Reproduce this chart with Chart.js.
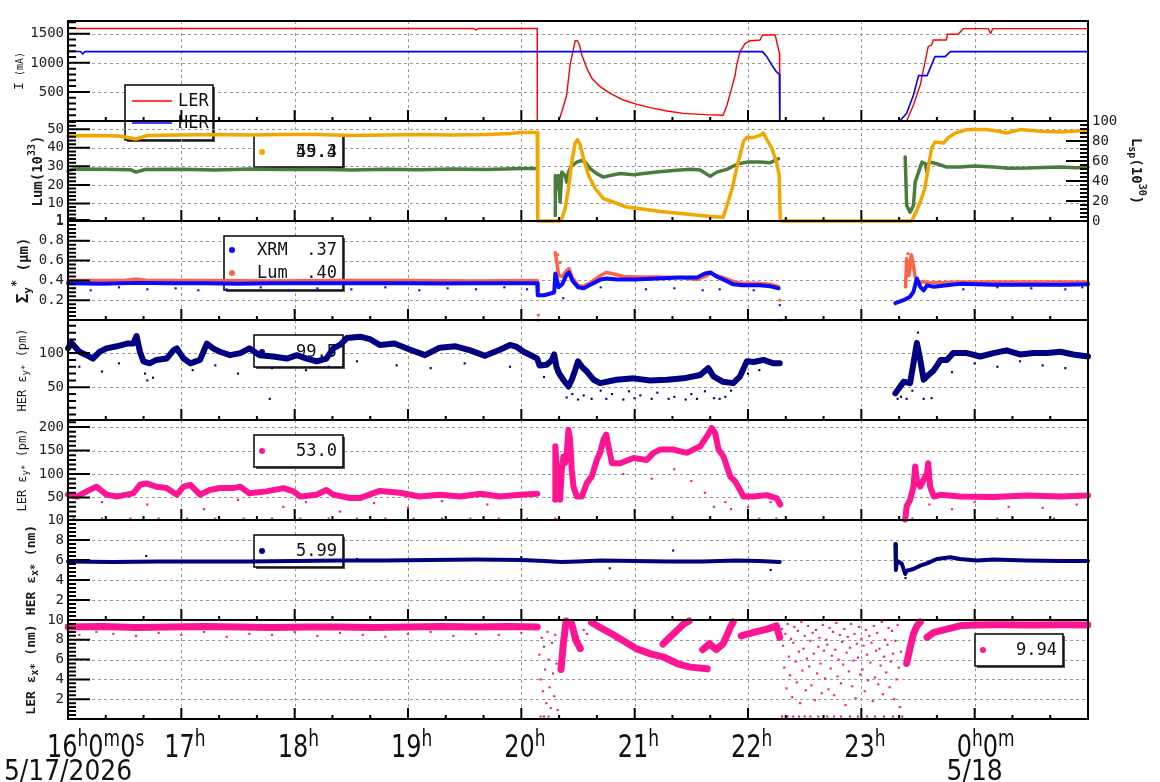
<!DOCTYPE html>
<html>
<head>
<meta charset="utf-8">
<script src="https://cdn.jsdelivr.net/npm/chart.js@4.4.1/dist/chart.umd.min.js"></script>
<style>
  body { margin: 0; background: #fff; }
  #wrap { position: relative; width: 1160px; height: 782px; overflow: hidden; }
  #wrap canvas { position: absolute; left: 0; }
</style>
</head>
<body>
<div id="wrap"></div>
<script>
// ---- data: [hour, value], null = no data ----
const hours = [16, 17, 18, 19, 20, 21, 22, 23, 24, 25];
const hourLabels = [['16','h','0','m','0','s'], ['17','h'], ['18','h'], ['19','h'], ['20','h'], ['21','h'], ['22','h'], ['23','h'], ['0','h','0','m']];
const dateLabels = [[16, '5/17/2026'], [24, '5/18']];

// panel 1 : beam currents (mA)
const lerCurrent = [[16.0,1590],[17.5,1590],[19.0,1590],[19.58,1590],[19.6,1565],[19.62,1590],[20.14,1590],[20.141,0],[20.33,0],[20.357,160],[20.40,447],[20.43,963],[20.455,1192],[20.475,1381],[20.495,1381],[20.513,1307],[20.534,1135],[20.578,906],[20.622,734],[20.695,590],[20.784,476],[20.90,361],[21.02,287],[21.137,229],[21.284,172],[21.43,132],[21.62,110],[21.78,100],[21.815,275],[21.843,476],[21.887,791],[21.90,963],[21.93,1192],[21.975,1336],[22.02,1381],[22.107,1393],[22.128,1479],[22.24,1479],[22.26,1307],[22.278,1164],[22.28,0],[23.40,0],[23.46,275],[23.52,620],[23.59,1280],[23.62,1308],[23.635,1394],[23.75,1394],[23.76,1492],[23.855,1492],[23.9,1588],[24.12,1588],[24.14,1505],[24.16,1588],[25.0,1588]];
const herCurrent = [[16.0,1195],[16.11,1195],[16.13,1155],[16.15,1195],[22.128,1193],[22.166,1106],[22.21,963],[22.25,848],[22.278,803],[22.28,0],[23.34,0],[23.40,132],[23.46,447],[23.505,780],[23.58,780],[23.65,1107],[23.74,1107],[23.785,1193],[25.0,1193]];

// panel 2 : luminosity (left, 10^33) and specific luminosity (right, 10^30)
const lumTotal = [[16.0,27.6],[16.05,28.6],[16.3,28.4],[16.55,28.2],[16.6,26.9],[16.68,28.3],[17.0,28.5],[17.3,28.1],[17.6,28.6],[17.9,28.3],[18.2,28.5],[18.5,28.0],[18.8,28.4],[19.1,28.2],[19.4,28.6],[19.7,28.3],[20.0,28.8],[20.14,28.8],[20.145,null],[20.298,3.5],[20.30,25.1],[20.313,17.9],[20.327,25.1],[20.342,10.7],[20.357,26.9],[20.386,25.1],[20.40,21.5],[20.416,26.9],[20.445,30.5],[20.49,32.3],[20.534,33.2],[20.563,32.3],[20.607,28.8],[20.666,26.1],[20.725,24.2],[20.784,25.1],[20.872,26.1],[20.99,25.5],[21.078,26.1],[21.196,26.9],[21.343,27.8],[21.49,28.4],[21.578,28.0],[21.666,24.6],[21.725,26.9],[21.813,28.4],[21.872,30.2],[21.916,31.4],[21.99,32.3],[22.107,32.3],[22.196,32.0],[22.269,34.1],[22.275,null],[23.387,35],[23.40,8.9],[23.43,5.3],[23.46,8.9],[23.475,21.5],[23.505,26.9],[23.535,32.3],[23.564,31.4],[23.58,26.9],[23.59,31.4],[23.607,32.3],[23.666,31.4],[23.755,29.6],[23.87,29.6],[24.0,30.2],[24.166,29.6],[24.3,29.0],[24.46,29.1],[24.6,29.4],[24.755,29.6],[24.9,29.3],[25.0,29.6]];
const lumSpecific = [[16.0,85],[16.2,85.5],[16.45,85],[16.6,82],[16.7,85.5],[17.0,86],[17.3,86.5],[17.6,86],[17.9,86.5],[18.2,86.5],[18.5,85.5],[18.8,86],[19.1,86.5],[19.4,86],[19.7,86.5],[19.9,87.5],[20.0,88.5],[20.14,88.5],[20.145,0],[20.345,0],[20.357,2.2],[20.386,12.3],[20.416,32.5],[20.445,59.4],[20.475,78],[20.495,81.3],[20.519,76.3],[20.548,62.8],[20.592,46],[20.651,32.5],[20.725,22.4],[20.81,19],[20.927,14],[21.05,12.3],[21.225,9.6],[21.43,7.3],[21.667,4.5],[21.78,3.8],[21.815,15.7],[21.86,32.5],[21.90,52.7],[21.93,66],[21.96,79.6],[21.99,83.6],[22.05,83.6],[22.107,85.7],[22.137,88],[22.166,81.3],[22.21,72.9],[22.25,59.4],[22.275,46],[22.285,0],[23.445,0],[23.475,7.3],[23.52,19],[23.56,32.5],[23.59,52.7],[23.62,73],[23.65,79],[23.725,78],[23.77,83.6],[23.83,88],[23.93,91.4],[24.1,91.4],[24.2,90],[24.28,88],[24.40,91.4],[24.58,89.7],[24.76,89],[24.9,90],[25.0,91]];

// panel 3 : vertical beam size (um)
const sizeXrm = [[16.0,0.37],[16.3,0.365],[16.6,0.375],[16.9,0.37],[17.2,0.37],[17.5,0.365],[17.8,0.37],[18.1,0.37],[18.4,0.37],[18.7,0.372],[19.0,0.37],[19.3,0.368],[19.6,0.37],[19.9,0.372],[20.14,0.37],[20.145,0.25],[20.2,0.25],[20.25,0.265],[20.29,0.28],[20.30,0.47],[20.33,0.33],[20.36,0.36],[20.40,0.46],[20.42,0.48],[20.45,0.40],[20.5,0.33],[20.55,0.32],[20.6,0.35],[20.65,0.38],[20.7,0.41],[20.75,0.42],[20.85,0.41],[21.0,0.41],[21.2,0.42],[21.4,0.43],[21.55,0.43],[21.62,0.47],[21.67,0.48],[21.72,0.44],[21.8,0.40],[21.87,0.36],[21.95,0.35],[22.1,0.35],[22.2,0.34],[22.27,0.32],[22.28,null],[23.30,0.17],[23.373,0.20],[23.43,0.235],[23.46,0.285],[23.475,0.35],[23.49,0.42],[23.52,0.335],[23.55,0.30],[23.58,0.35],[23.64,0.335],[23.755,0.35],[23.87,0.365],[24.166,0.355],[24.46,0.355],[24.8,0.355],[25.0,0.36]];
const sizeLum = [[16.0,0.40],[16.5,0.40],[16.6,0.415],[16.7,0.40],[17.2,0.40],[17.8,0.395],[18.4,0.40],[19.0,0.40],[19.6,0.395],[20.14,0.40],[20.145,null],[20.30,0.68],[20.31,0.6],[20.33,0.45],[20.36,0.44],[20.40,0.50],[20.42,0.52],[20.45,0.43],[20.5,0.35],[20.55,0.34],[20.6,0.37],[20.65,0.41],[20.7,0.45],[20.75,0.48],[20.8,0.47],[20.9,0.44],[21.0,0.435],[21.2,0.435],[21.4,0.43],[21.55,0.41],[21.62,0.44],[21.67,0.47],[21.72,0.45],[21.8,0.42],[21.87,0.39],[21.95,0.37],[22.1,0.37],[22.2,0.36],[22.27,0.34],[22.28,null],[23.39,0.335],[23.40,0.62],[23.42,0.45],[23.44,0.66],[23.46,0.55],[23.475,0.435],[23.49,0.40],[23.52,0.375],[23.55,0.39],[23.58,0.375],[23.755,0.38],[23.87,0.385],[24.166,0.385],[24.46,0.385],[25.0,0.385]];
const sizeXrmOut = [[16.05,0.32],[16.2,0.30],[16.45,0.33],[16.7,0.31],[16.95,0.32],[17.15,0.30],[17.4,0.31],[17.7,0.33],[17.95,0.30],[18.2,0.32],[18.5,0.31],[18.8,0.33],[19.1,0.30],[19.35,0.32],[19.6,0.31],[19.85,0.33],[20.05,0.31],[20.37,0.22],[20.7,0.33],[21.1,0.31],[21.35,0.32],[21.6,0.30],[21.75,0.31],[22.05,0.30],[22.28,0.15],[23.9,0.31],[24.2,0.33],[24.5,0.32],[24.8,0.31],[24.95,0.33]];
const sizeLumOut = [[20.15,0.0],[20.15,0.05],[22.28,0.2],[22.285,0.0],[20.32,0.66],[20.34,0.58],[23.41,0.67],[23.43,0.52]];

// panel 4 : HER vertical emittance (pm)
const herEy = [[16.0,107],[16.03,115],[16.1,102],[16.165,97],[16.22,92],[16.28,102],[16.34,107],[16.43,110],[16.52,114],[16.576,114],[16.605,125],[16.635,102],[16.665,88],[16.72,85],[16.78,90],[16.87,92],[16.93,104],[16.96,107],[17.02,92],[17.08,85],[17.165,90],[17.195,102],[17.225,114],[17.28,107],[17.34,102],[17.43,97],[17.52,100],[17.6,107],[17.69,97],[17.81,95],[17.93,92],[18.02,97],[18.105,92],[18.195,88],[18.28,92],[18.34,107],[18.4,112],[18.46,122],[18.58,124],[18.67,120],[18.75,112],[18.88,114],[19.02,105],[19.15,97],[19.28,108],[19.42,110],[19.55,104],[19.68,96],[19.81,105],[19.9,112],[19.96,109],[20.02,102],[20.107,95],[20.14,92],[20.16,82],[20.225,83],[20.27,90],[20.29,98],[20.31,80],[20.33,71],[20.37,61],[20.416,51],[20.445,61],[20.475,75],[20.50,88],[20.534,80],[20.578,73],[20.637,61],[20.695,56],[20.84,61],[20.99,63],[21.137,60],[21.284,61],[21.43,63],[21.578,68],[21.65,78],[21.695,66],[21.78,58],[21.87,56],[21.93,66],[21.99,88],[22.05,87],[22.137,90],[22.225,85],[22.28,85],[22.285,null],[23.30,41],[23.373,58],[23.43,56],[23.46,85],[23.49,115],[23.52,90],[23.55,61],[23.58,66],[23.64,75],[23.70,90],[23.755,90],[23.81,100],[23.93,100],[24.05,95],[24.166,100],[24.28,104],[24.4,98],[24.52,100],[24.64,100],[24.755,102],[24.87,98],[25.0,95]];
const herEyOut = [[16.1,80],[16.3,73],[16.45,85],[16.68,70],[16.7,60],[16.75,64],[17.1,75],[17.3,82],[17.5,70],[17.78,33],[17.8,78],[18.1,75],[18.3,80],[18.55,88],[18.9,82],[19.2,78],[19.5,85],[19.9,80],[20.2,65],[20.4,35],[20.45,40],[20.5,32],[20.55,38],[20.62,33],[20.7,45],[20.75,33],[20.8,40],[20.9,32],[20.95,44],[21.0,34],[21.05,38],[21.15,33],[21.2,42],[21.3,33],[21.35,36],[21.45,32],[21.5,40],[21.55,33],[21.62,44],[21.7,34],[21.75,33],[21.8,36],[21.85,45],[22.0,70],[22.1,75],[23.32,33],[23.35,36],[23.4,33],[23.45,45],[23.5,130],[23.55,33],[23.62,34],[23.8,72],[24.0,85],[24.2,80],[24.4,88],[24.6,82],[24.8,78]];

// panel 5 : LER vertical emittance (pm)
const lerEy = [[16.0,56],[16.08,52],[16.165,63],[16.25,73],[16.34,56],[16.43,52],[16.52,56],[16.576,59],[16.635,77],[16.69,80],[16.78,73],[16.87,70],[16.96,56],[17.02,73],[17.08,77],[17.165,56],[17.25,66],[17.34,70],[17.46,70],[17.52,73],[17.6,59],[17.75,63],[17.9,70],[17.99,63],[18.05,52],[18.195,56],[18.28,66],[18.34,56],[18.49,49],[18.58,49],[18.75,64],[18.93,60],[19.1,52],[19.28,56],[19.46,52],[19.64,58],[19.81,52],[19.99,56],[20.14,58],[20.145,null],[20.298,45],[20.30,159],[20.313,109],[20.327,73],[20.342,45],[20.357,109],[20.371,137],[20.386,123],[20.40,145],[20.416,194],[20.43,173],[20.445,109],[20.46,73],[20.49,52],[20.534,52],[20.578,81],[20.622,95],[20.666,130],[20.695,145],[20.725,173],[20.749,184],[20.769,159],[20.799,123],[20.872,123],[20.99,134],[21.107,130],[21.166,145],[21.225,152],[21.343,152],[21.46,145],[21.578,159],[21.637,180],[21.68,198],[21.71,187],[21.74,152],[21.784,137],[21.843,95],[21.887,84],[21.93,66],[21.96,52],[22.05,52],[22.166,55],[22.255,48],[22.284,35],[22.29,null],[23.387,3],[23.40,31],[23.43,45],[23.46,73],[23.475,116],[23.49,88],[23.52,73],[23.55,88],[23.58,102],[23.59,123],[23.607,73],[23.64,52],[23.70,56],[23.87,52],[24.166,51],[24.46,54],[24.755,52],[25.0,54]];
const lerEyOut = [[16.05,5],[16.3,5],[16.55,5],[16.8,5],[17.05,5],[17.3,5],[17.55,5],[17.8,5],[18.05,5],[18.3,5],[18.55,5],[18.8,5],[19.05,5],[19.3,5],[19.55,5],[19.8,5],[20.05,5],[20.3,5],[20.33,5],[16.3,40],[16.7,35],[17.2,25],[17.5,45],[17.9,30],[18.1,40],[18.4,20],[18.7,38],[19.0,28],[19.3,42],[19.7,35],[20.0,25],[20.9,100],[21.15,90],[21.35,110],[21.5,85],[21.62,60],[21.7,30],[21.8,40],[21.85,25],[22.0,30],[22.2,40],[22.1,5],[22.25,5],[23.45,5],[23.6,35],[23.8,25],[24.0,40],[24.2,5],[24.3,30],[24.6,28],[24.7,5],[24.9,35],[25.0,5]];

// panel 6 : HER horizontal emittance (nm)
const herEx = [[16.0,5.85],[16.4,5.8],[16.8,5.85],[17.2,5.85],[17.6,5.85],[18.0,5.9],[18.4,5.95],[18.8,5.95],[19.2,6.0],[19.6,6.05],[20.0,6.0],[20.2,5.9],[20.35,5.8],[20.5,5.85],[20.7,5.95],[21.0,5.9],[21.3,5.85],[21.6,5.85],[21.9,5.95],[22.1,5.9],[22.28,5.8],[22.285,null],[23.30,7.6],[23.305,5.0],[23.314,5.94],[23.358,5.6],[23.387,4.6],[23.40,4.93],[23.46,5.1],[23.52,5.44],[23.58,5.67],[23.666,6.1],[23.785,6.27],[23.87,6.1],[24.02,5.94],[24.166,6.05],[24.46,5.94],[24.755,5.9],[25.0,5.9]];
const herExOut = [[16.69,6.4],[18.55,6.1],[20.0,6.3],[20.78,5.17],[21.34,6.94],[22.2,5.0],[23.31,7.0],[23.39,4.2]];

// panel 7 : LER horizontal emittance (nm)
const lerEx = [[16.0,9.3],[16.3,9.35],[16.6,9.25],[16.9,9.3],[17.2,9.35],[17.5,9.3],[17.8,9.25],[18.1,9.3],[18.4,9.3],[18.7,9.25],[19.0,9.3],[19.3,9.35],[19.6,9.3],[19.9,9.35],[20.14,9.3],[20.145,null],[20.35,5.0],[20.37,7.5],[20.395,9.9],[20.40,null],[20.445,9.6],[20.48,8.0],[20.52,7.1],[20.525,null],[20.62,9.75],[20.695,9.25],[20.80,8.58],[20.90,7.9],[21.02,7.08],[21.14,6.58],[21.26,6.24],[21.38,5.58],[21.49,5.24],[21.64,5.07],[21.645,null],[21.25,7.58],[21.34,8.58],[21.43,9.58],[21.48,9.9],[21.485,null],[21.60,7.0],[21.66,7.6],[21.72,7.0],[21.78,7.6],[21.82,8.6],[21.85,9.4],[21.87,9.8],[21.875,null],[21.94,8.4],[22.05,8.75],[22.17,9.08],[22.25,9.41],[22.28,8.24],[22.285,null],[23.40,5.6],[23.43,7.2],[23.46,8.6],[23.49,9.4],[23.52,9.8],[23.525,null],[23.58,8.24],[23.64,8.75],[23.755,9.08],[23.87,9.41],[24.0,9.5],[24.2,9.52],[24.5,9.5],[24.8,9.52],[25.0,9.5]];
const lerExOut = [[16.1,8.5],[16.25,8.8],[16.4,8.6],[16.6,8.4],[16.8,8.7],[17.0,8.5],[17.2,8.8],[17.4,8.3],[17.6,8.6],[17.8,8.5],[18.0,8.8],[18.2,8.4],[18.4,8.7],[18.6,8.5],[18.8,8.3],[19.0,8.6],[19.2,8.8],[19.4,8.4],[19.6,8.6],[19.8,8.5],[20.0,8.7],
  [20.16,6.5],[20.17,4.0],[20.18,8.2],[20.19,2.8],[20.20,7.3],[20.21,5.0],[20.22,1.6],[20.23,8.8],[20.24,6.0],[20.25,3.2],[20.26,1.1],[20.27,7.7],[20.28,4.6],[20.29,2.3],[20.30,8.5],[20.31,5.6],[20.32,0.9],[20.50,8.3],[20.55,9.0],[20.58,8.6],
  [22.30,9.1],[22.31,7.4],[22.32,5.2],[22.33,8.6],[22.34,3.1],[22.35,9.6],[22.36,6.3],[22.37,4.4],[22.38,8.1],[22.39,2.2],[22.40,7.7],[22.41,9.3],[22.42,5.8],[22.43,3.7],[22.44,8.9],[22.45,6.8],[22.46,1.6],[22.47,9.8],[22.48,4.9],[22.49,7.1],[22.50,8.4],[22.51,2.9],[22.52,6.1],[22.53,9.4],[22.54,5.3],[22.55,7.9],[22.56,3.4],[22.57,8.7],[22.58,6.6],[22.59,1.9],[22.60,9.0],[22.61,4.6],[22.62,7.3],[22.63,8.2],[22.64,5.6],[22.65,2.6],[22.66,9.5],[22.67,6.9],[22.68,4.1],[22.69,8.0],[22.70,7.5],[22.71,3.0],[22.72,9.2],[22.73,5.1],[22.74,6.4],[22.75,8.8],[22.76,2.4],[22.77,7.0],[22.78,9.7],[22.79,4.3],[22.80,6.0],[22.81,8.5],[22.82,3.6],[22.83,7.8],[22.84,5.5],[22.85,9.1],[22.86,1.4],[22.87,6.7],[22.88,8.3],[22.89,4.8],[22.90,7.2],[22.91,9.6],[22.92,3.3],[22.93,5.9],[22.94,8.6],[22.95,2.1],[22.96,7.6],[22.97,6.2],[22.98,9.3],[22.99,4.5],[23.00,8.1],[23.01,5.0],[23.02,7.4],[23.03,2.8],[23.04,9.0],[23.05,6.5],[23.06,3.9],[23.07,8.4],[23.08,5.7],[23.09,7.7],[23.10,1.8],[23.11,9.4],[23.12,4.2],[23.13,6.9],[23.14,8.7],[23.15,3.5],[23.16,7.1],[23.17,5.4],[23.18,9.8],[23.19,2.5],[23.20,6.3],[23.21,8.0],[23.22,4.7],[23.23,7.5],[23.24,9.2],[23.25,3.2],[23.26,5.8],[23.27,8.9],[23.28,6.6],[23.29,2.0],[23.30,7.9],[23.31,4.0],[23.32,9.5],[23.33,5.2],[23.34,1.2],[23.35,6.8],
  [20.17,0.25],[20.2,0.25],[20.24,0.25],[22.3,0.25],[22.35,0.25],[22.4,0.25],[22.45,0.25],[22.5,0.25],[22.55,0.25],[22.62,0.25],[22.7,0.25],[22.76,0.25],[22.82,0.25],[22.9,0.25],[22.97,0.25],[23.05,0.25],[23.12,0.25],[23.2,0.25],[23.28,0.25],[23.36,0.25]];

// legend values shown in the boxes
const legendValues = { lum: ['55.3', '49.4'], xrm: '.37', lumSize: '.40', herEy: '99.5', lerEy: '53.0', herEx: '5.99', lerEx: '9.94' };

// ---- colours ----
const RED = '#ff0000', BLUE = '#0000ff', ORANGE = '#f0a800', GREEN = '#4a7d3c', BLUE2 = '#0a0aff', TOMATO = '#ff6347', NAVY = '#000080', PINK = '#ff1493';

const line = (data, color, width, axis = 'y') => ({ type: 'line', data, borderColor: color, borderWidth: width, borderJoinStyle: 'round', borderCapStyle: 'round', pointRadius: 0, fill: false, tension: 0, spanGaps: false, yAxisID: axis, clip: 3 });
const dots = (data, color, r = 1.5, axis = 'y') => ({ type: 'scatter', data, backgroundColor: color, borderWidth: 0, pointStyle: 'rect', pointRadius: r, showLine: false, yAxisID: axis, clip: 3 });

const MONO = '"DejaVu Sans Mono", monospace';
const tops = [21, 121, 221, 320, 420, 520, 620, 719];

const panels = [
  { min: 0, max: 1720, ticks: [500, 1000, 1500], minor: 100, grid: [500, 1000, 1500],
    title: { x: 20, parts: [{ t: 'I', s: 13 }, { t: ' (mA)', s: 10 }] },
    datasets: [line(herCurrent, BLUE, 1.6), line(lerCurrent, RED, 1.4)],
    legend: { box: [125, 85, 88, 55], items: [{ line: RED, y: 101, label: 'LER' }, { line: BLUE, y: 123, label: 'HER' }] } },
  { min: 0.5, max: 54.5, ticks: [1, 10, 20, 30, 40, 50], minor: 2, grid: [10, 20, 30, 40, 50],
    right: { min: 0, max: 100, ticks: [0, 20, 40, 60, 80, 100], minor: 4 },
    title: { x: 38, parts: [{ t: 'Lum(10', s: 14, b: 1 }, { t: '33', s: 10, b: 1, dy: -6 }, { t: ')', s: 14, b: 1 }] },
    rightTitle: { x: 1136, parts: [{ t: 'L', s: 14, b: 1 }, { t: 'sp', s: 10, b: 1, dy: 4 }, { t: '(10', s: 14, b: 1 }, { t: '30', s: 10, b: 1, dy: -6 }, { t: ')', s: 14, b: 1 }] },
    datasets: [line(lumSpecific, ORANGE, 3.5, 'y2'), line(lumTotal, GREEN, 3.5)],
    legend: { box: [254, 135, 89, 32], items: [{ dot: ORANGE, y: 152, values: legendValues.lum }] } },
  { min: 0, max: 1, ticks: [0.2, 0.4, 0.6, 0.8, 1], minor: 0.04, grid: [0.2, 0.4, 0.6, 0.8],
    title: { x: 24, parts: [{ t: 'Σ', s: 16, b: 1 }, { t: 'y', s: 11, b: 1, dy: 4 }, { t: '*', s: 12, b: 1, dy: -7 }, { t: ' (μm)', s: 14, b: 1 }] },
    datasets: [dots(sizeXrmOut, BLUE2), line(sizeXrm, BLUE2, 4), dots(sizeLumOut, TOMATO, 2), line(sizeLum, TOMATO, 3.5)],
    legend: { box: [224, 236, 119, 54], items: [{ dot: BLUE2, y: 250, label: 'XRM', values: [legendValues.xrm] }, { dot: TOMATO, y: 273, label: 'Lum', values: [legendValues.lumSize] }] } },
  { min: 2, max: 148.5, ticks: [50, 100], minor: 10, grid: [50, 100],
    title: { x: 23, parts: [{ t: 'HER ε', s: 12 }, { t: 'y*', s: 9, dy: 3 }, { t: ' (pm)', s: 12 }] },
    datasets: [dots(herEyOut, NAVY), line(herEy, NAVY, 6)],
    legend: { box: [254, 335, 89, 32], items: [{ dot: NAVY, y: 352, values: [legendValues.herEy] }] } },
  { min: 2, max: 215, ticks: [50, 100, 150, 200], minor: 10, grid: [50, 100, 150, 200],
    title: { x: 23, parts: [{ t: 'LER ε', s: 12 }, { t: 'y*', s: 9, dy: 3 }, { t: ' (pm)', s: 12 }] },
    datasets: [dots(lerEyOut, PINK), line(lerEy, PINK, 6)],
    legend: { box: [254, 435, 89, 32], items: [{ dot: PINK, y: 451, values: [legendValues.lerEy] }] } },
  { min: 0, max: 10, ticks: [2, 4, 6, 8, 10], minor: 0.4, grid: [2, 4, 6, 8],
    title: { x: 32, parts: [{ t: 'HER ε', s: 13, b: 1 }, { t: 'x*', s: 10, b: 1, dy: 3 }, { t: ' (nm)', s: 13, b: 1 }] },
    datasets: [dots(herExOut, NAVY), line(herEx, NAVY, 4)],
    legend: { box: [254, 535, 89, 32], items: [{ dot: NAVY, y: 551, values: [legendValues.herEx] }] } },
  { min: 0, max: 10, ticks: [2, 4, 6, 8, 10], minor: 0.4, grid: [2, 4, 6, 8],
    title: { x: 32, parts: [{ t: 'LER ε', s: 13, b: 1 }, { t: 'x*', s: 10, b: 1, dy: 3 }, { t: ' (nm)', s: 13, b: 1 }] },
    datasets: [dots(lerExOut, PINK), line(lerEx, PINK, 7)],
    legend: { box: [975, 634, 88, 32], items: [{ dot: PINK, y: 650, values: [legendValues.lerEx] }] },
    bottom: true }
];

const PAD = 22;

function fontOf(q) { return (q.b ? 'bold ' : '') + q.s + 'px ' + MONO; }

function drawRich(ctx, parts, cx, cy, angle) {
  ctx.save();
  ctx.translate(cx, cy);
  ctx.rotate(angle);
  let w = 0;
  parts.forEach(q => { ctx.font = fontOf(q); q.w = ctx.measureText(q.t).width; w += q.w; });
  let x = -w / 2;
  ctx.textBaseline = 'middle';
  ctx.textAlign = 'left';
  ctx.fillStyle = '#1a1a1a';
  parts.forEach(q => { ctx.font = fontOf(q); ctx.fillText(q.t, x, q.dy || 0); x += q.w; });
  ctx.restore();
}

function drawLegend(ctx, lg, off) {
  const [x, y0, w, h] = lg.box;
  const y = y0 - off;
  ctx.save();
  ctx.fillStyle = '#555';
  ctx.fillRect(x + 2, y + 2, w, h);
  ctx.fillStyle = '#fff';
  ctx.fillRect(x, y, w, h);
  ctx.strokeStyle = '#000';
  ctx.lineWidth = 1.5;
  ctx.strokeRect(x, y, w, h);
  ctx.font = '17px ' + MONO;
  ctx.textBaseline = 'middle';
  lg.items.forEach(it => {
    const iy = it.y - off;
    if (it.line) {
      ctx.strokeStyle = it.line; ctx.lineWidth = 1.5;
      ctx.beginPath(); ctx.moveTo(x + 7, iy); ctx.lineTo(x + 47, iy); ctx.stroke();
      ctx.fillStyle = '#111'; ctx.textAlign = 'left';
      ctx.fillText(it.label, x + 53, iy + 1);
    } else {
      ctx.fillStyle = it.dot;
      ctx.beginPath(); ctx.arc(x + 8, iy, 3, 0, Math.PI * 2); ctx.fill();
      ctx.fillStyle = '#111';
      if (it.label) { ctx.textAlign = 'left'; ctx.fillText(it.label, x + 33, iy + 1); }
      ctx.textAlign = 'right';
      (it.values || []).forEach(v => ctx.fillText(v, x + w - 6, iy + 1));
    }
  });
  ctx.restore();
}

function minorVals(min, max, step, majors) {
  const out = [];
  for (let k = Math.ceil(min / step - 1e-6); k * step <= max + 1e-9; k++) {
    const v = +(k * step).toFixed(6);
    if (!majors.some(m => Math.abs(m - v) < step / 10)) out.push(v);
  }
  return out;
}

function drawHourLabels(ctx, chart) {
  const x = chart.scales.x, a = chart.chartArea;
  const base = a.bottom + 38, dateBase = a.bottom + 61;
  ctx.save();
  ctx.fillStyle = '#111';
  ctx.textBaseline = 'alphabetic';
  ctx.textAlign = 'left';
  hourLabels.forEach((parts, i) => {
    const px = x.getPixelForValue(hours[i]);
    const shift = i === 0 ? 21 : (parts[0].length === 1 ? 18 : 17);
    ctx.save();
    ctx.translate(px - shift, base);
    ctx.scale(1, 1.3);
    let cx = 0;
    parts.forEach((t, j) => {
      const sup = j % 2 === 1;
      ctx.font = (sup ? 17 : 24) + 'px "DejaVu Sans"';
      ctx.fillText(t, cx, sup ? -8.5 : 0);
      cx += ctx.measureText(t).width;
    });
    ctx.restore();
  });
  dateLabels.forEach(([h, t]) => {
    const px = x.getPixelForValue(h);
    ctx.save();
    ctx.translate(px, dateBase);
    ctx.scale(1, 1.1);
    ctx.font = '25px "DejaVu Sans"';
    ctx.textAlign = 'center';
    ctx.fillText(t, 0, 0);
    ctx.restore();
  });
  ctx.restore();
}

function panelPlugin(p, off) {
  return {
    id: 'panelDeco',
    beforeDatasetsDraw(chart) {
      const { ctx, chartArea: a, scales } = chart;
      ctx.save();
      ctx.strokeStyle = '#9a9a9a';
      ctx.lineWidth = 1;
      ctx.setLineDash([3, 3]);
      ctx.beginPath();
      hours.forEach(h => {
        if (h <= 16 || h >= 25) return;
        const px = Math.round(scales.x.getPixelForValue(h)) + 0.5;
        ctx.moveTo(px, a.top); ctx.lineTo(px, a.bottom);
      });
      p.grid.forEach(v => {
        const py = Math.round(scales.y.getPixelForValue(v)) + 0.5;
        ctx.moveTo(a.left, py); ctx.lineTo(a.right, py);
      });
      ctx.stroke();
      ctx.restore();
      if (p.legend) drawLegend(ctx, p.legend, off);
    },
    afterDatasetsDraw(chart) {
      const { ctx, chartArea: a, scales } = chart;
      ctx.save();
      ctx.strokeStyle = '#000';
      ctx.lineWidth = 2;
      ctx.beginPath();
      // x ticks on the bottom edge, pointing inward
      for (let k = 0; k <= 27; k++) {
        const h = 16 + k / 3;
        const px = scales.x.getPixelForValue(h);
        const len = k % 3 === 0 ? 11 : 4;
        ctx.moveTo(px, a.bottom); ctx.lineTo(px, a.bottom - len);
      }
      // left y ticks
      p.ticks.forEach(v => { const py = scales.y.getPixelForValue(v); ctx.moveTo(a.left, py); ctx.lineTo(a.left + 22, py); });
      minorVals(p.min, p.max, p.minor, p.ticks).forEach(v => { const py = scales.y.getPixelForValue(v); ctx.moveTo(a.left, py); ctx.lineTo(a.left + 8, py); });
      if (p.right) {
        const r = p.right;
        r.ticks.forEach(v => { const py = scales.y2.getPixelForValue(v); ctx.moveTo(a.right, py); ctx.lineTo(a.right - 22, py); });
        minorVals(r.min, r.max, r.minor, r.ticks).forEach(v => { const py = scales.y2.getPixelForValue(v); ctx.moveTo(a.right, py); ctx.lineTo(a.right - 8, py); });
      }
      ctx.stroke();
      ctx.strokeRect(a.left, a.top, a.right - a.left, a.bottom - a.top);
      ctx.restore();
    },
    afterDraw(chart) {
      const { ctx, chartArea: a } = chart;
      const cy = (a.top + a.bottom) / 2;
      drawRich(ctx, p.title.parts, p.title.x, cy, -Math.PI / 2);
      if (p.rightTitle) drawRich(ctx, p.rightTitle.parts, p.rightTitle.x, cy, Math.PI / 2);
      if (p.bottom) drawHourLabels(ctx, chart);
    }
  };
}

const wrap = document.getElementById('wrap');
panels.forEach((p, i) => {
  const ph = tops[i + 1] - tops[i];
  const canvasTop = tops[i] - PAD;
  const h = p.bottom ? 782 - canvasTop : ph + 2 * PAD;
  const padBottom = h - PAD - ph;
  const canvas = document.createElement('canvas');
  canvas.width = 1160; canvas.height = h;
  canvas.style.top = canvasTop + 'px';
  canvas.style.width = '1160px'; canvas.style.height = h + 'px';
  canvas.style.zIndex = i + 1;
  wrap.appendChild(canvas);

  const tickFont = { family: MONO, size: 14 };
  const scales = {
    x: { type: 'linear', min: 16, max: 25, display: false },
    y: {
      type: 'linear', position: 'left', min: p.min, max: p.max,
      afterFit: s => { s.width = 68; },
      afterBuildTicks: s => { s.ticks = p.ticks.map(v => ({ value: v })); },
      ticks: { font: tickFont, color: '#222', padding: 4, autoSkip: false, callback: v => String(v) },
      grid: { display: false, drawTicks: false },
      border: { display: false }
    }
  };
  if (p.right) {
    scales.y2 = {
      type: 'linear', position: 'right', min: p.right.min, max: p.right.max,
      afterFit: s => { s.width = 72; },
      afterBuildTicks: s => { s.ticks = p.right.ticks.map(v => ({ value: v })); },
      ticks: { font: tickFont, color: '#222', padding: 4, autoSkip: false, callback: v => String(v) },
      grid: { display: false, drawTicks: false },
      border: { display: false }
    };
  }

  new Chart(canvas, {
    type: 'line',
    data: { datasets: p.datasets },
    options: {
      responsive: false,
      animation: false,
      events: [],
      layout: { padding: { top: PAD, bottom: padBottom, left: 0, right: p.right ? 0 : 72 } },
      scales,
      plugins: { legend: { display: false }, tooltip: { enabled: false } }
    },
    plugins: [panelPlugin(p, canvasTop)]
  });
});
</script>
</body>
</html>
